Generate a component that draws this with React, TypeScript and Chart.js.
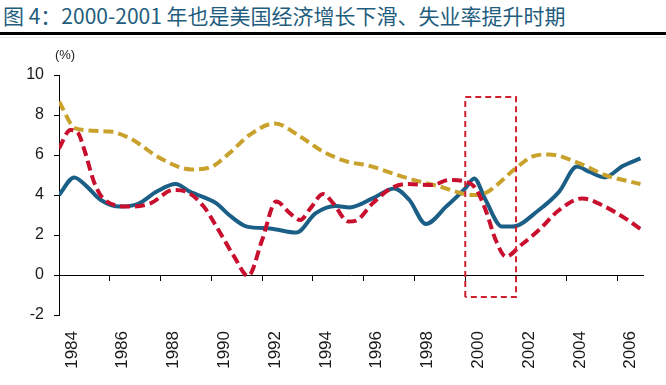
import React, { useEffect, useRef } from "react";
import { Chart, registerables } from "chart.js";

Chart.register(...registerables);

const titleText = "图 4：2000-2001 年也是美国经济增长下滑、失业率提升时期";
const unitLabel = "(%)";

const tickYears = [1984, 1986, 1988, 1990, 1992, 1994, 1996, 1998, 2000, 2002, 2004, 2006];
const xMin = 1984;
const xMax = 2007;
const yMin = -2;
const yMax = 10;

const blueYears = [1984.0, 1984.6, 1985.1, 1985.65, 1986.4, 1987.1, 1987.85, 1988.6, 1989.15, 1990.2, 1990.7, 1991.4, 1992.3, 1993.35, 1994.1, 1994.9, 1995.45, 1996.35, 1997.2, 1997.8, 1998.45, 1999.25, 2000.0, 2000.35, 2000.8, 2001.45, 2001.85, 2002.9, 2003.7, 2004.4, 2004.9, 2005.5, 2006.2, 2006.9];
const blueValues = [4.0, 4.88, 4.42, 3.75, 3.42, 3.55, 4.17, 4.55, 4.17, 3.58, 3.0, 2.42, 2.33, 2.12, 3.08, 3.45, 3.38, 3.83, 4.33, 3.75, 2.55, 3.42, 4.33, 4.83, 3.75, 2.42, 2.42, 3.25, 4.17, 5.42, 5.15, 4.88, 5.45, 5.83];

const redYears = [1984.0, 1984.45, 1984.75, 1985.0, 1985.4, 1985.8, 1986.8, 1987.6, 1988.5, 1989.0, 1989.7, 1990.2, 1990.9, 1991.45, 1992.0, 1992.55, 1993.1, 1993.5, 1993.9, 1994.4, 1994.8, 1995.4, 1995.7, 1996.35, 1997.1, 1997.7, 1998.7, 1999.35, 2000.0, 2000.4, 2000.8, 2001.2, 2001.6, 2002.2, 2002.9, 2003.7, 2004.6, 2005.5, 2006.3, 2006.9];
const redValues = [6.33, 7.25, 7.1, 6.25, 4.58, 3.75, 3.42, 3.58, 4.25, 4.17, 3.42, 2.42, 0.92, -0.05, 1.75, 3.67, 3.08, 2.75, 3.33, 4.05, 3.58, 2.67, 2.72, 3.58, 4.35, 4.55, 4.5, 4.75, 4.67, 4.35, 3.25, 1.75, 0.92, 1.5, 2.25, 3.25, 3.83, 3.42, 2.83, 2.3];

const goldYears = [1984.0, 1984.65, 1986.0, 1986.8, 1988.0, 1989.2, 1989.95, 1990.7, 1991.5, 1992.5, 1993.5, 1994.4, 1995.4, 1996.1, 1997.7, 1999.0, 2000.3, 2000.8, 2002.0, 2002.6, 2003.3, 2004.5, 2005.5, 2006.9];
const goldValues = [8.67, 7.33, 7.17, 6.83, 5.83, 5.28, 5.38, 6.08, 7.0, 7.58, 6.92, 6.17, 5.65, 5.5, 4.85, 4.42, 4.0, 4.1, 5.35, 5.9, 6.03, 5.58, 5.0, 4.55];

const boxYears = [2000, 2000, 2002, 2002, 2000];
const boxValues = [-1.1, 8.9, 8.9, -1.1, -1.1];

const toPoints = (xs: number[], ys: number[]) => xs.map((x, i) => ({ x, y: ys[i] }));

const FONT = '"Liberation Sans", Arial, sans-serif';

const unitPlugin = {
  id: "unitLabel",
  afterDraw(chart: any) {
    const { ctx, chartArea } = chart;
    ctx.save();
    ctx.font = `13px ${FONT}`;
    ctx.fillStyle = "#222";
    ctx.textAlign = "center";
    ctx.textBaseline = "middle";
    ctx.fillText(unitLabel, chartArea.left + 6, chartArea.top - 20);
    ctx.restore();
  },
};

export default function App() {
  const canvasRef = useRef<HTMLCanvasElement | null>(null);

  useEffect(() => {
    if (!canvasRef.current) return;
    const setTicks = (scale: any) => {
      scale.ticks = tickYears.map((v) => ({ value: v }));
    };
    const chart = new Chart(canvasRef.current, {
      type: "line",
      data: {
        datasets: [
          {
            data: toPoints(boxYears, boxValues),
            borderColor: "#D0202E",
            borderWidth: 2,
            borderDash: [6, 4],
            tension: 0,
            pointRadius: 0,
            fill: false,
          },
          {
            data: toPoints(redYears, redValues),
            borderColor: "#C8102E",
            borderWidth: 4,
            borderDash: [10, 5],
            cubicInterpolationMode: "monotone",
            pointRadius: 0,
            fill: false,
          },
          {
            data: toPoints(goldYears, goldValues),
            borderColor: "#C9A22E",
            borderWidth: 4,
            borderDash: [10, 5],
            cubicInterpolationMode: "monotone",
            pointRadius: 0,
            fill: false,
          },
          {
            data: toPoints(blueYears, blueValues),
            borderColor: "#1B5E86",
            borderWidth: 4,
            cubicInterpolationMode: "monotone",
            pointRadius: 0,
            fill: false,
          },
        ],
      },
      options: {
        animation: false,
        responsive: false,
        maintainAspectRatio: false,
        layout: { padding: { top: 35, right: 23, left: 0, bottom: 0 } },
        plugins: {
          legend: { display: false },
          tooltip: { enabled: false },
          title: { display: false },
        },
        scales: {
          x: {
            type: "linear",
            position: { y: 0 } as any,
            min: xMin,
            max: xMax,
            afterBuildTicks: setTicks,
            grid: {
              drawOnChartArea: false,
              drawTicks: true,
              tickLength: 5,
              color: "#000",
            },
            border: { display: true, color: "#000", width: 1 },
            ticks: { display: false },
          },
          x2: {
            type: "linear",
            position: "bottom",
            min: xMin,
            max: xMax,
            afterBuildTicks: setTicks,
            afterFit: (scale: any) => {
              scale.height = 70;
            },
            grid: { display: false, drawTicks: false },
            border: { display: false },
            ticks: {
              autoSkip: false,
              maxRotation: 90,
              minRotation: 90,
              labelOffset: 13,
              padding: 16,
              color: "#1a1a1a",
              font: { family: FONT, size: 17 },
              callback: (v: any) => String(v),
            },
          },
          y: {
            type: "linear",
            position: "left",
            min: yMin,
            max: yMax,
            afterFit: (scale: any) => {
              scale.width = 59;
            },
            grid: {
              drawOnChartArea: false,
              drawTicks: true,
              tickLength: 5,
              color: "#000",
            },
            border: { display: true, color: "#000", width: 1 },
            ticks: {
              stepSize: 2,
              padding: 10,
              color: "#1a1a1a",
              font: { family: FONT, size: 16 },
            },
          },
        },
      },
      plugins: [unitPlugin],
    });
    return () => chart.destroy();
  }, []);

  return (
    <div style={{ position: "absolute", left: 0, top: 0, width: 666, height: 385, background: "#fff", overflow: "hidden" }}>
      <div
        style={{
          position: "absolute",
          left: 3,
          top: 0,
          fontFamily: '"Noto Sans CJK SC", "Noto Sans", sans-serif',
          fontSize: 21,
          lineHeight: "30px",
          color: "#1F5D7E",
          whiteSpace: "nowrap",
        }}
      >
        {titleText}
      </div>
      <div style={{ position: "absolute", left: 0, top: 32, width: 666, height: 3, background: "#000" }} />
      <div style={{ position: "absolute", left: 0, top: 37, width: 666, height: 1, background: "#e8e8e8" }} />
      <canvas
        ref={canvasRef}
        width={666}
        height={345}
        style={{ position: "absolute", left: 0, top: 40, width: 666, height: 345, display: "block" }}
      />
    </div>
  );
}
